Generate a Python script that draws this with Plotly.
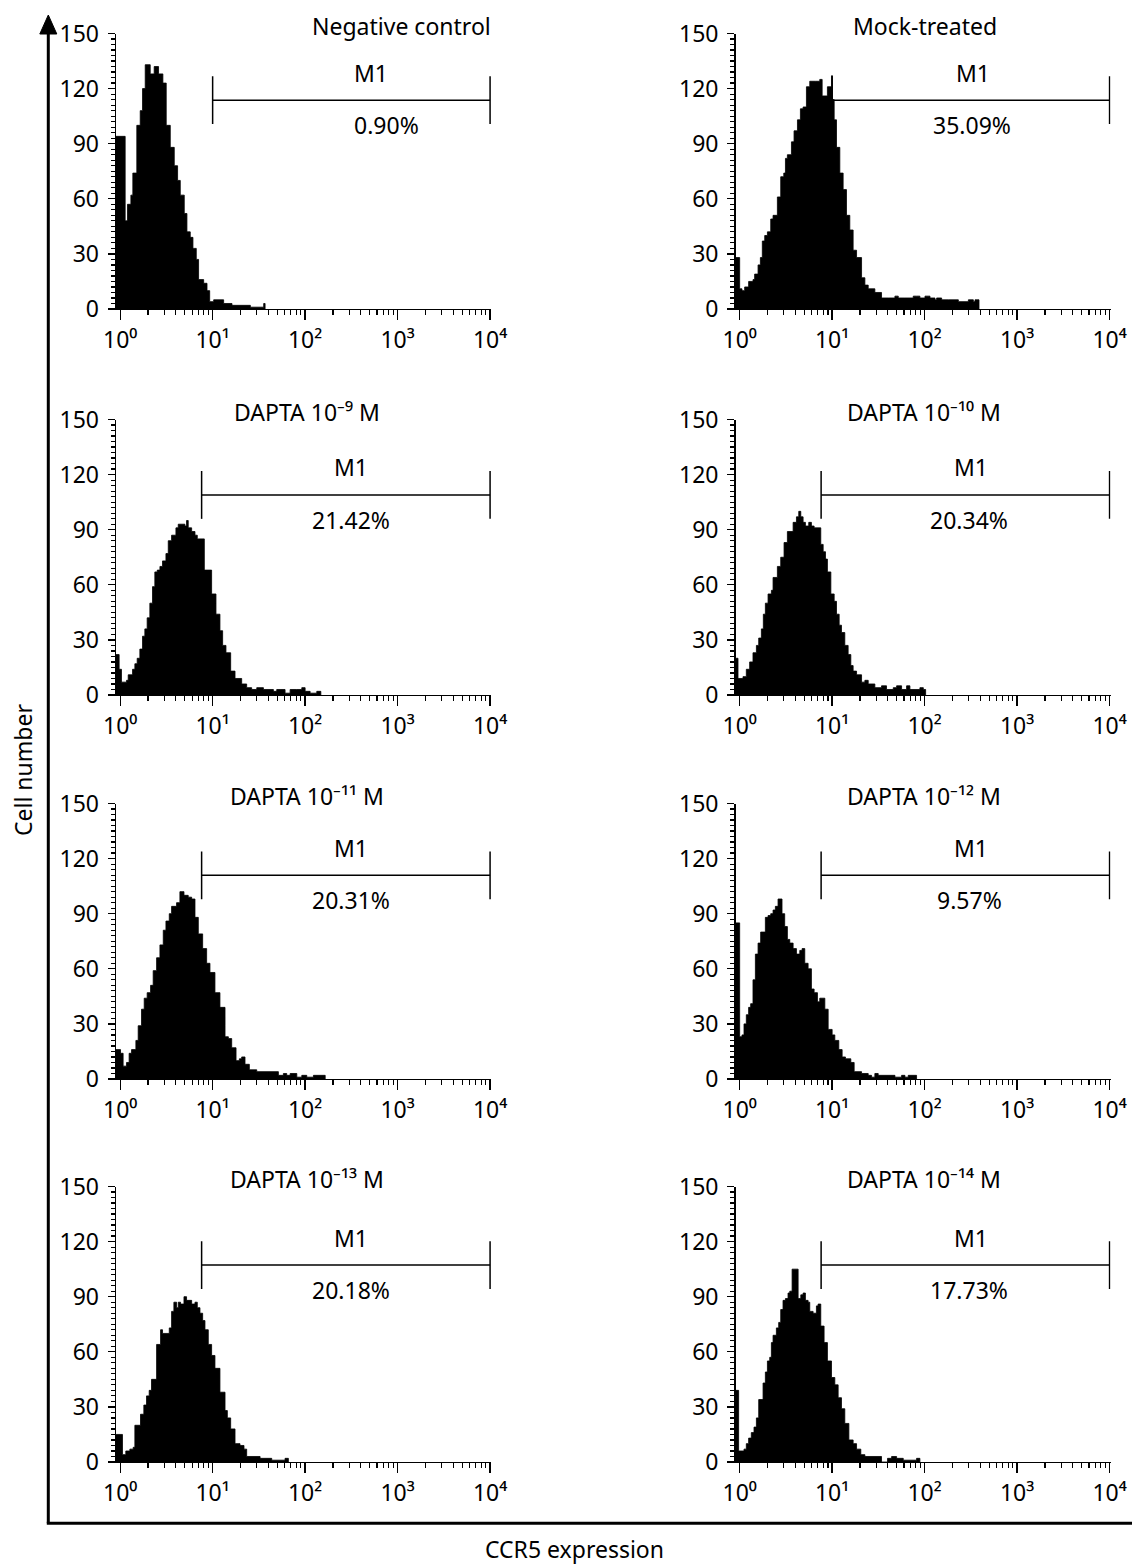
import plotly.graph_objects as go

W, H = 1132, 1564

# ---------------- data ----------------
panel_titles = [
    "Negative control", "Mock-treated",
    "DAPTA 10\u207b\u2079 M", "DAPTA 10\u207b\u00b9\u2070 M",
    "DAPTA 10\u207b\u00b9\u00b9 M", "DAPTA 10\u207b\u00b9\u00b2 M",
    "DAPTA 10\u207b\u00b9\u00b3 M", "DAPTA 10\u207b\u00b9\u2074 M",
]
m1_percent = ["0.90%", "35.09%", "21.42%", "20.34%", "20.31%", "9.57%", "20.18%", "17.73%"]
m1_start = [10, 10, 7.6, 7.6, 7.6, 7.6, 7.6, 7.6]        # gate start (fluorescence)
m1_end = [10000] * 8
m1_level = [113.7, 113.7, 108.9, 108.9, 110.9, 110.9, 107.2, 107.2]

x_tick_values = [1, 10, 100, 1000, 10000]
x_tick_labels = ["10\u2070", "10\u00b9", "10\u00b2", "10\u00b3", "10\u2074"]
y_tick_values = [0, 30, 60, 90, 120, 150]

# histogram step edges (log10 of fluorescence) and cell counts
neg_log_edges = [-0.045, 0.054, 0.079, 0.116, 0.137, 0.18, 0.217, 0.242, 0.271, 0.325,
                 0.368, 0.415, 0.462, 0.498, 0.542, 0.585, 0.621, 0.65, 0.693, 0.722,
                 0.758, 0.787, 0.823, 0.848, 0.903, 0.939, 0.968, 1.011, 1.047, 1.119,
                 1.209, 1.408, 1.552, 1.567]
neg_counts = [94, 48, 57, 62, 74, 100, 108, 120, 133, 128,
              132, 128, 123, 100, 88, 78, 70, 62, 52, 42,
              39, 33, 27, 16, 14, 10, 4, 5, 5, 3,
              2, 1, 3, 0]

mock_log_edges = [-0.045, 0.0, 0.025, 0.054, 0.097, 0.144, 0.162, 0.199, 0.224, 0.245,
                  0.271, 0.300, 0.336, 0.361, 0.408, 0.444, 0.477, 0.495, 0.516, 0.560,
                  0.588, 0.625, 0.657, 0.686, 0.722, 0.758, 0.819, 0.866, 0.892, 0.949,
                  0.993, 1.004, 1.022, 1.047, 1.083, 1.119, 1.155, 1.191, 1.227, 1.264,
                  1.318, 1.354, 1.390, 1.462, 1.534, 1.606, 1.679, 1.715, 1.787, 1.877,
                  1.913, 1.949, 2.004, 2.058, 2.112, 2.130, 2.184, 2.256, 2.365, 2.473,
                  2.527, 2.545, 2.588]
mock_counts = [28, 11, 10, 12, 15, 16, 19, 24, 28, 37,
               40, 42, 49, 51, 61, 72, 74, 82, 84, 91,
               97, 103, 109, 110, 121, 124, 124, 125, 116, 121,
               127, 114, 103, 88, 74, 65, 51, 43, 32, 28,
               17, 13, 11, 9, 6, 6, 7, 6, 6, 7,
               7, 6, 7, 6, 5, 6, 5, 5, 4, 5,
               4, 5, 0]

d9_log_edges = [-0.045, -0.011, 0.014, 0.069, 0.087, 0.134, 0.159, 0.184, 0.213, 0.242,
                0.267, 0.292, 0.321, 0.350, 0.375, 0.401, 0.430, 0.458, 0.495, 0.520,
                0.556, 0.603, 0.628, 0.700, 0.718, 0.736, 0.773, 0.809, 0.834, 0.910,
                0.989, 1.036, 1.079, 1.108, 1.144, 1.195, 1.242, 1.314, 1.368, 1.422,
                1.477, 1.549, 1.657, 1.693, 1.729, 1.783, 1.838, 1.910, 1.964, 2.000,
                2.054, 2.126, 2.170]
d9_counts = [22, 14, 7, 8, 11, 14, 17, 20, 25, 32,
             36, 42, 50, 59, 67, 68, 70, 73, 77, 84,
             87, 91, 93, 92, 95, 91, 89, 87, 85, 68,
             55, 44, 35, 27, 23, 13, 9, 6, 4, 3,
             4, 3, 2, 3, 3, 1, 3, 3, 4, 2,
             1, 2, 0]

d10_log_edges = [-0.045, -0.018, 0.036, 0.072, 0.108, 0.144, 0.181, 0.206, 0.235, 0.256,
                 0.278, 0.307, 0.343, 0.361, 0.408, 0.444, 0.480, 0.516, 0.578, 0.614,
                 0.639, 0.661, 0.686, 0.711, 0.747, 0.776, 0.805, 0.877, 0.903, 0.928,
                 0.949, 0.986, 1.022, 1.047, 1.076, 1.101, 1.137, 1.173, 1.202, 1.227,
                 1.264, 1.318, 1.354, 1.390, 1.462, 1.534, 1.588, 1.661, 1.697, 1.751,
                 1.805, 1.841, 1.949, 1.986, 2.011]
d10_counts = [20, 9, 10, 14, 18, 23, 27, 31, 36, 44,
              50, 55, 57, 64, 70, 75, 83, 89, 94, 97,
              100, 97, 94, 92, 94, 92, 91, 82, 78, 74,
              67, 55, 51, 44, 38, 34, 27, 22, 16, 13,
              11, 7, 8, 6, 4, 5, 3, 4, 5, 3,
              5, 3, 4, 3, 0]

d11_log_edges = [-0.045, 0.004, 0.032, 0.069, 0.097, 0.123, 0.170, 0.195, 0.231, 0.260,
                 0.292, 0.329, 0.357, 0.394, 0.430, 0.466, 0.495, 0.531, 0.556, 0.610,
                 0.646, 0.690, 0.736, 0.773, 0.809, 0.845, 0.892, 0.935, 0.971, 1.025,
                 1.079, 1.134, 1.170, 1.206, 1.253, 1.289, 1.314, 1.350, 1.397, 1.477,
                 1.711, 1.765, 1.801, 1.838, 1.910, 1.964, 2.018, 2.090, 2.217]
d11_counts = [16, 14, 7, 9, 14, 16, 21, 29, 38, 44,
              47, 51, 59, 66, 73, 81, 86, 90, 94, 96,
              102, 100, 99, 98, 88, 79, 71, 63, 58, 47,
              39, 23, 22, 17, 10, 11, 12, 8, 5, 4,
              2, 3, 2, 3, 1, 2, 1, 2, 0]

d12_log_edges = [-0.045, 0.0, 0.025, 0.047, 0.072, 0.097, 0.119, 0.144, 0.170, 0.199,
                 0.227, 0.278, 0.307, 0.336, 0.361, 0.386, 0.415, 0.458, 0.487, 0.516,
                 0.542, 0.578, 0.614, 0.650, 0.675, 0.704, 0.740, 0.776, 0.805, 0.841,
                 0.866, 0.921, 0.957, 1.000, 1.029, 1.072, 1.108, 1.144, 1.202, 1.238,
                 1.318, 1.390, 1.426, 1.462, 1.498, 1.679, 1.751, 1.787, 1.823, 1.913]
d12_counts = [85, 23, 24, 30, 35, 39, 41, 54, 68, 74,
              80, 88, 89, 90, 92, 94, 98, 90, 83, 76,
              74, 71, 68, 70, 71, 63, 60, 49, 47, 42,
              44, 38, 27, 24, 21, 16, 12, 11, 9, 4,
              3, 2, 1, 3, 2, 1, 2, 1, 2, 0]

d13_log_edges = [-0.045, 0.025, 0.061, 0.105, 0.141, 0.159, 0.220, 0.256, 0.285, 0.314,
                 0.339, 0.394, 0.437, 0.458, 0.531, 0.556, 0.581, 0.610, 0.628, 0.653,
                 0.690, 0.718, 0.773, 0.809, 0.834, 0.863, 0.892, 0.917, 0.953, 0.989,
                 1.025, 1.079, 1.134, 1.159, 1.195, 1.242, 1.296, 1.339, 1.368, 1.513,
                 1.639, 1.783, 1.819]
d13_counts = [15, 4, 6, 7, 8, 20, 26, 31, 36, 39,
              45, 64, 72, 70, 73, 82, 87, 84, 87, 86,
              90, 88, 86, 87, 84, 81, 77, 72, 64, 58,
              51, 38, 28, 24, 18, 10, 9, 7, 3, 2,
              1, 2, 0]

d14_log_edges = [-0.045, -0.011, 0.047, 0.072, 0.097, 0.126, 0.155, 0.181, 0.206, 0.253,
                 0.278, 0.300, 0.325, 0.343, 0.361, 0.397, 0.422, 0.444, 0.469, 0.495,
                 0.523, 0.542, 0.567, 0.632, 0.661, 0.686, 0.711, 0.740, 0.758, 0.794,
                 0.830, 0.848, 0.877, 0.913, 0.949, 0.993, 1.029, 1.065, 1.101, 1.137,
                 1.181, 1.227, 1.264, 1.310, 1.354, 1.534, 1.599, 1.643, 1.697, 1.769,
                 1.913, 1.949]
d14_counts = [39, 6, 7, 10, 13, 16, 19, 24, 34, 43,
              49, 55, 57, 65, 69, 73, 76, 83, 88, 89,
              92, 93, 105, 89, 91, 92, 88, 87, 82, 81,
              85, 86, 74, 65, 55, 46, 42, 35, 29, 21,
              12, 10, 7, 4, 3, 0, 2, 3, 2, 1,
              2, 0]

histograms = [
    (neg_log_edges, neg_counts), (mock_log_edges, mock_counts),
    (d9_log_edges, d9_counts), (d10_log_edges, d10_counts),
    (d11_log_edges, d11_counts), (d12_log_edges, d12_counts),
    (d13_log_edges, d13_counts), (d14_log_edges, d14_counts),
]

# ---------------- layout / style ----------------
FONT = "Noto Sans, Open Sans, DejaVu Sans, sans-serif"
FS = 23
X_RANGE = [-0.045, 4.01]
col_px = [(116.0, 491.0), (735.5, 1110.5)]
row_zero_px = [309.0, 695.0, 1079.0, 1462.0]
panel_h_px = 275.5

title_pos = [  # (log10 x, anchor)
    (4.0, "right"), (2.0, "center"),
    (2.02, "center"), (1.99, "center"),
    (2.02, "center"), (1.99, "center"),
    (2.02, "center"), (1.99, "center"),
]
m1_label_x = [2.71, 2.52, 2.5, 2.5, 2.5, 2.5, 2.5, 2.5]
pct_label_x = [2.88, 2.51, 2.5, 2.48, 2.5, 2.48, 2.5, 2.48]


def px_x(p):
    return p / W


def px_y(p):
    return 1 - p / H


minor_x = [d * 10 ** k for k in range(4) for d in range(2, 10)]

fig = go.Figure()
annotations = []
layout_axes = {}

for i, (edges, counts) in enumerate(histograms):
    n = i + 1
    r, c = divmod(i, 2)
    xname = "xaxis" if n == 1 else f"xaxis{n}"
    yname = "yaxis" if n == 1 else f"yaxis{n}"
    xref = "x" if n == 1 else f"x{n}"
    yref = "y" if n == 1 else f"y{n}"

    x0p, x1p = col_px[c]
    z = row_zero_px[r]
    layout_axes[xname] = dict(
        domain=[px_x(x0p), px_x(x1p)], anchor=yref, type="log", range=X_RANGE,
        automargin=False,
        tickmode="array", tickvals=x_tick_values, ticktext=x_tick_labels,
        ticks="outside", ticklen=10, tickwidth=1.3, tickcolor="black",
        showline=True, linecolor="black", linewidth=1.4, showgrid=False, zeroline=False,
        tickfont=dict(family=FONT, size=FS, color="black"), ticklabelstandoff=0,
        minor=dict(tickmode="array", tickvals=minor_x, ticks="outside", ticklen=5,
                   tickwidth=1.2, tickcolor="black", showgrid=False),
        fixedrange=True,
    )
    layout_axes[yname] = dict(
        domain=[px_y(z), px_y(z - panel_h_px)], anchor=xref, range=[0, 150],
        automargin=False,
        tickmode="array", tickvals=y_tick_values,
        ticks="outside", ticklen=7, tickwidth=1.3, tickcolor="black",
        showline=True, linecolor="black", linewidth=1.4, showgrid=False, zeroline=False,
        tickfont=dict(family=FONT, size=FS, color="black"), ticklabelstandoff=4,
        minor=dict(dtick=3, ticks="outside", ticklen=4, tickwidth=1.2,
                   tickcolor="black", showgrid=False),
        fixedrange=True,
    )

    fig.add_trace(go.Scatter(
        x=[10 ** e for e in edges], y=counts, xaxis=xref, yaxis=yref,
        mode="lines", line=dict(color="black", width=0.8, shape="hv"),
        fill="tozeroy", fillcolor="black", hoverinfo="skip", showlegend=False,
    ))

    # M1 marker
    lv = m1_level[i]
    cap = 13
    fig.add_trace(go.Scatter(
        x=[m1_start[i], m1_end[i], None, m1_start[i], m1_start[i], None, m1_end[i], m1_end[i]],
        y=[lv, lv, None, lv - cap, lv + cap, None, lv - cap, lv + cap],
        xaxis=xref, yaxis=yref, mode="lines", line=dict(color="black", width=1.5),
        hoverinfo="skip", showlegend=False, cliponaxis=False,
    ))

    tx, tanchor = title_pos[i]
    annotations.append(dict(
        text=panel_titles[i], x=tx, xref=xref, xanchor=tanchor,
        xshift=3 if tanchor == "right" else 0,
        y=1, yref=f"{yref} domain", yanchor="middle", yshift=8,
        showarrow=False, font=dict(family=FONT, size=FS, color="black"),
    ))
    annotations.append(dict(
        text="M1", x=m1_label_x[i], xref=xref, y=lv + 15, yref=yref,
        xanchor="center", yanchor="middle", showarrow=False,
        font=dict(family=FONT, size=FS, color="black"),
    ))
    annotations.append(dict(
        text=m1_percent[i], x=pct_label_x[i], xref=xref, y=lv - 13.6, yref=yref,
        xanchor="center", yanchor="middle", showarrow=False,
        font=dict(family=FONT, size=FS, color="black"),
    ))

# global axis titles
annotations.append(dict(
    text="Cell number", x=px_x(23), y=px_y(770), xref="paper", yref="paper",
    textangle=-90, showarrow=False, xanchor="center", yanchor="middle",
    font=dict(family=FONT, size=FS, color="black"),
))
annotations.append(dict(
    text="CCR5 expression", x=px_x(483), y=px_y(1549), xref="paper", yref="paper",
    showarrow=False, xanchor="left", yanchor="middle",
    font=dict(family=FONT, size=FS, color="black"),
))

frame_x = 48.3
frame_bottom = 1523.3
shapes = [
    dict(type="line", xref="paper", yref="paper",
         x0=px_x(frame_x), x1=px_x(frame_x), y0=px_y(30), y1=px_y(frame_bottom),
         line=dict(color="black", width=3)),
    dict(type="line", xref="paper", yref="paper",
         x0=px_x(frame_x - 1.5), x1=1, y0=px_y(frame_bottom), y1=px_y(frame_bottom),
         line=dict(color="black", width=3)),
    dict(type="path", xref="paper", yref="paper",
         path=(f"M {px_x(frame_x)} {px_y(15)} L {px_x(frame_x - 8.5)} {px_y(34)} "
               f"L {px_x(frame_x + 8.5)} {px_y(34)} Z"),
         fillcolor="black", line=dict(color="black", width=1)),
]

fig.update_layout(
    width=W, height=H, margin=dict(l=0, r=0, t=0, b=0, pad=0, autoexpand=False),
    paper_bgcolor="white", plot_bgcolor="white", showlegend=False,
    annotations=annotations, shapes=shapes,
    font=dict(family=FONT, size=FS, color="black"),
    **layout_axes,
)

# remove the page's default body margin so the figure fills the window exactly
fig.write_html(
    "out.html",
    config={"displayModeBar": False, "staticPlot": True},
    post_script="document.body.style.margin='0';document.body.style.overflow='hidden';",
)
